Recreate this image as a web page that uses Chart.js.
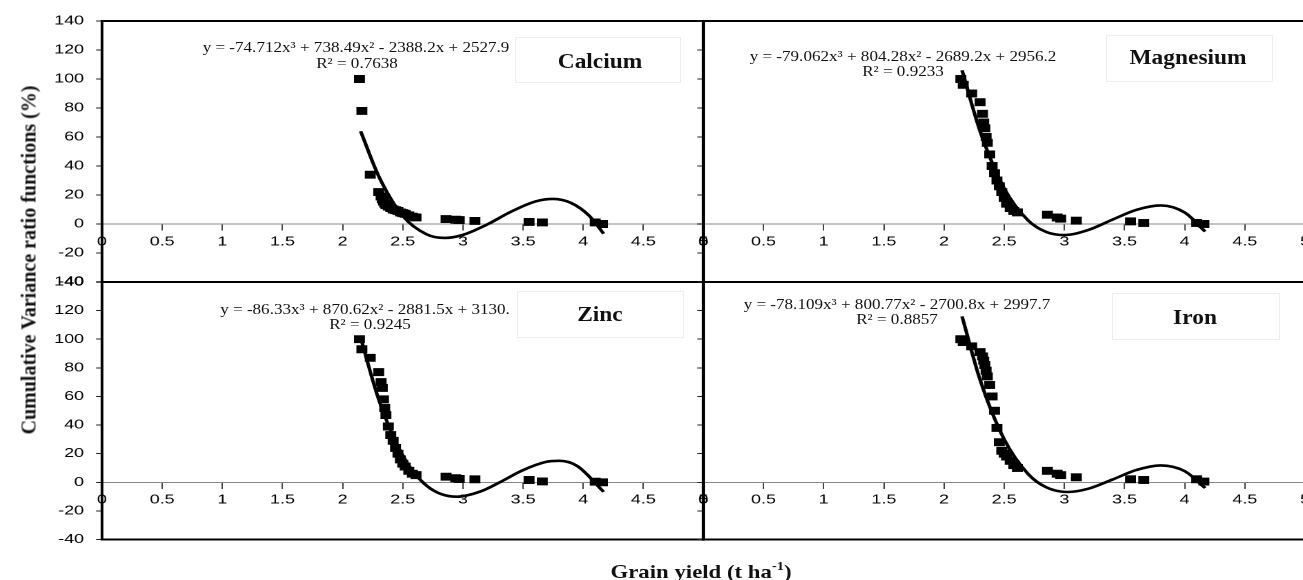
<!DOCTYPE html>
<html>
<head>
<meta charset="utf-8">
<script src="https://cdn.jsdelivr.net/npm/chart.js@4.4.1/dist/chart.umd.min.js"></script>
<style>
  body { margin: 0; width: 1303px; height: 580px; overflow: hidden; background: #fff; position: relative; }
  canvas { position: absolute; transform-origin: 0 0; }
  .txt { position: absolute; white-space: nowrap; color: #111; font-family: "Liberation Serif", "Times New Roman", serif; }
  .eq { font-size: 14px; transform: translate(-50%, -50%) scaleX(1.22); }
  .name { font-size: 20px; font-weight: bold; transform: translate(-50%, -50%) scaleX(1.17); }
  .box { position: absolute; border: 1px solid #eeeeee; }
</style>
</head>
<body>
<canvas id="calcium"></canvas>
<canvas id="magnesium"></canvas>
<canvas id="zinc"></canvas>
<canvas id="iron"></canvas>

<div class="box" style="left:515px;top:37px;width:164px;height:44px"></div>
<div class="box" style="left:1106px;top:35px;width:165px;height:45px"></div>
<div class="box" style="left:517px;top:291px;width:165px;height:45px"></div>
<div class="box" style="left:1112px;top:293px;width:166px;height:45px"></div>

<div class="txt name" style="left:600px;top:61px">Calcium</div>
<div class="txt name" style="left:1188px;top:57px">Magnesium</div>
<div class="txt name" style="left:600px;top:314px">Zinc</div>
<div class="txt name" style="left:1195px;top:317px">Iron</div>

<div class="txt eq" style="left:356px;top:48px">y = -74.712x³ + 738.49x² - 2388.2x + 2527.9</div>
<div class="txt eq" style="left:357px;top:64px">R² = 0.7638</div>
<div class="txt eq" style="left:903px;top:57px">y = -79.062x³ + 804.28x² - 2689.2x + 2956.2</div>
<div class="txt eq" style="left:903px;top:72px">R² = 0.9233</div>
<div class="txt eq" style="left:365px;top:310px">y = -86.33x³ + 870.62x² - 2881.5x + 3130.</div>
<div class="txt eq" style="left:370px;top:325px">R² = 0.9245</div>
<div class="txt eq" style="left:897px;top:305px">y = -78.109x³ + 800.77x² - 2700.8x + 2997.7</div>
<div class="txt eq" style="left:897px;top:320px">R² = 0.8857</div>

<div class="txt" style="left:29px;top:260px;font-size:20px;font-weight:bold;transform:translate(-50%,-50%) rotate(-90deg)">Cumulative Variance ratio functions (%)</div>
<div class="txt" style="left:701px;top:571px;font-size:19px;font-weight:bold;transform:translate(-50%,-50%) scaleX(1.2)">Grain yield (t ha<sup style="font-size:12px">-1</sup>)</div>

<script>
// grain yield of the entries (t/ha), shared by the four panels
const yieldX = [2.14, 2.16, 2.23, 2.30, 2.32, 2.33, 2.34, 2.35, 2.36, 2.38, 2.40, 2.42, 2.44, 2.46,
                2.48, 2.50, 2.52, 2.55, 2.58, 2.61, 2.86, 2.94, 2.97, 3.10, 3.55, 3.66, 4.10, 4.16];

// cumulative variance ratio (%) per element
const calciumY   = [100, 78, 34, 22, 19, 17, 15.5, 14, 13, 12, 11, 10, 9.5, 9, 8, 7.5, 7, 6, 5, 4.5, 3.4, 3, 2.7, 2.1, 1.4, 1.1, 1.1, 0];
const magnesiumY = [100, 96, 90, 84, 76, 70, 66, 60, 56, 48, 40, 35, 30, 26, 22, 18, 14, 11, 9, 8, 6.4, 4.5, 3.7, 2.3, 1.8, 0.7, 0.7, 0];
const zincY      = [100, 93, 87, 77, 70, 66, 58, 52, 47, 39, 33, 29, 24, 20, 16, 13, 11, 8, 6, 5, 3.9, 2.8, 2.3, 2.1, 1.6, 0.6, 0.4, 0];
const ironY      = [100, 98, 95, 91, 88, 85, 82, 78, 74, 68, 60, 50, 38, 28, 22, 20, 18, 15, 12, 10, 8, 6, 5, 3.5, 2.1, 1.6, 2.1, 0.5];

// polynomial trend lines
const calciumCurveX   = [2.15, 2.3, 2.5, 2.7, 2.85, 3.0, 3.2, 3.4, 3.6, 3.75, 3.9, 4.05, 4.17];
const calciumCurveY   = [64, 33, 5.6, -7.2, -9.6, -7.5, -0.4, 8.5, 15.5, 17.3, 14.5, 5.7, -6.7];
const magnesiumCurveX = [2.15, 2.3, 2.5, 2.7, 2.85, 3.0, 3.2, 3.4, 3.6, 3.8, 4.0, 4.17];
const magnesiumCurveY = [106, 64, 24.6, 2.4, -5.5, -7.6, -4.1, 3, 9.8, 12.8, 7.9, -5.2];
const zincCurveX      = [2.15, 2.3, 2.5, 2.7, 2.95, 3.15, 3.3, 3.5, 3.7, 3.8, 3.95, 4.17];
const zincCurveY      = [101, 58, 18.7, -2.5, -10.1, -6.3, -0.3, 8.5, 14.4, 15, 11.4, -6.7];
const ironCurveX      = [2.15, 2.3, 2.5, 2.7, 2.85, 3.03, 3.2, 3.4, 3.6, 3.8, 4.0, 4.17];
const ironCurveY      = [116, 71.6, 30, 5.7, -3.5, -6.8, -4.5, 1.9, 8.6, 11.8, 7.8, -4];

const xTicks = [0, 5, 0.5];     // min, max, step
const yTicks = [-40, 140, 20];

const S = 1.38; // the source figure is stretched horizontally

Chart.defaults.font.family = '"Liberation Sans", Arial, sans-serif';
Chart.defaults.font.size = 13;
Chart.defaults.color = '#000';

const frame = {
  id: 'frame',
  afterDraw(chart) {
    const a = chart.chartArea, ctx = chart.ctx;
    ctx.save();
    ctx.strokeStyle = '#000';
    ctx.lineWidth = 2;
    ctx.strokeRect(a.left, a.top, a.right - a.left, a.bottom - a.top);
    ctx.restore();
  }
};

const panels = [
  { id: 'calcium',   ys: calciumY,   cx: calciumCurveX,   cy: calciumCurveY,   left: 102,   right: 703.5, top: 21,  bottom: 282,   canvasLeft: 0,   canvasTop: 0,   labels: true },
  { id: 'magnesium', ys: magnesiumY, cx: magnesiumCurveX, cy: magnesiumCurveY, left: 703.3, right: 1305,  top: 21,  bottom: 282,   canvasLeft: 673, canvasTop: 0,   labels: false },
  { id: 'zinc',      ys: zincY,      cx: zincCurveX,      cy: zincCurveY,      left: 102,   right: 703.5, top: 282, bottom: 539.5, canvasLeft: 0,   canvasTop: 259, labels: true },
  { id: 'iron',      ys: ironY,      cx: ironCurveX,      cy: ironCurveY,      left: 703.3, right: 1305,  top: 282, bottom: 539.5, canvasLeft: 673, canvasTop: 259, labels: false }
];

panels.forEach(p => {
  const canvas = document.getElementById(p.id);
  const yw = (p.left - p.canvasLeft) / S;
  const aw = (p.right - p.left) / S;
  const W = Math.ceil(yw + aw + 16);
  const padTop = p.top - p.canvasTop;
  const ah = p.bottom - p.top;
  const H = Math.ceil(padTop + ah + 22);
  canvas.width = W;
  canvas.height = H;
  canvas.style.left = p.canvasLeft + 'px';
  canvas.style.top = p.canvasTop + 'px';
  canvas.style.width = W + 'px';
  canvas.style.height = H + 'px';
  canvas.style.transform = `scaleX(${S})`;

  new Chart(canvas, {
    type: 'scatter',
    data: {
      datasets: [
        {
          data: p.cx.map((x, i) => ({ x, y: p.cy[i] })),
          showLine: true,
          borderColor: '#000',
          borderWidth: 2.6,
          pointRadius: 0,
          cubicInterpolationMode: 'monotone'
        },
        {
          data: yieldX.map((x, i) => ({ x, y: p.ys[i] })),
          pointStyle: 'rect',
          pointRadius: 5.6,
          pointBackgroundColor: '#000',
          pointBorderWidth: 0
        }
      ]
    },
    plugins: [frame],
    options: {
      responsive: false,
      devicePixelRatio: 2,
      animation: false,
      layout: { padding: { top: padTop, right: W - yw - aw, bottom: H - padTop - ah, left: 0 } },
      plugins: { legend: { display: false }, tooltip: { enabled: false } },
      scales: {
        x: {
          type: 'linear',
          position: { y: 0 },
          min: xTicks[0], max: xTicks[1],
          ticks: { stepSize: xTicks[2], padding: 4, maxRotation: 0, callback: v => String(v) },
          grid: { drawOnChartArea: false, tickLength: 6, color: '#444' },
          border: { color: '#888', width: 1 }
        },
        y: {
          type: 'linear',
          min: yTicks[0], max: yTicks[1],
          ticks: { stepSize: yTicks[2], padding: 8.7, display: p.labels },
          grid: { drawOnChartArea: false, tickLength: 4.3, color: '#222' },
          border: { display: false },
          afterFit: s => { s.width = yw; }
        }
      }
    }
  });
});
</script>
</body>
</html>
